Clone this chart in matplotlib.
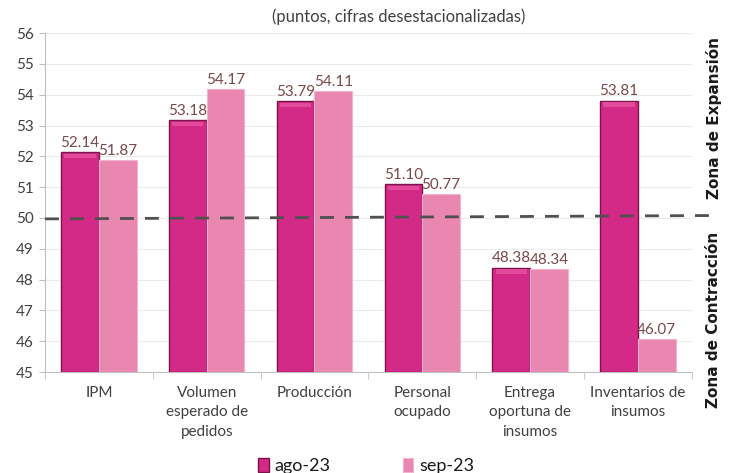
import numpy as np
import matplotlib.pyplot as plt

# datos (puntos, cifras desestacionalizadas)
categorias = ["IPM", "Volumen\nesperado de\npedidos", "Producción",
              "Personal\nocupado", "Entrega\noportuna de\ninsumos",
              "Inventarios de\ninsumos"]
ago_23 = [52.14, 53.18, 53.79, 51.10, 48.38, 53.81]
sep_23 = [51.87, 54.17, 54.11, 50.77, 48.34, 46.07]
series = ["ago-23", "sep-23"]
yticks = list(range(45, 57))

plt.rcParams['font.family'] = ['Lato', 'DejaVu Sans']

c_ago = '#D42A87'
c_sep = '#E987B1'
c_lbl = '#7A4848'
c_txt = '#404040'

fig = plt.figure(figsize=(7.32, 4.73), dpi=100)
ax = fig.add_axes([0.0615, 0.2135, 0.8835, 0.7165])

x = np.arange(len(categorias))
w = 0.35
base = 45
b1 = ax.bar(x - w / 2, np.array(ago_23) - base, w, bottom=base, color=c_ago,
            edgecolor='#7A1448', linewidth=1.0, zorder=3, label=series[0])
b2 = ax.bar(x + w / 2, np.array(sep_23) - base, w, bottom=base, color=c_sep,
            edgecolor='#F3B3CF', linewidth=0.8, zorder=3, label=series[1])

# brillo superior de las barras oscuras (efecto bisel)
for r in b1:
    ax.add_patch(plt.Rectangle((r.get_x() + 0.03, r.get_y() + r.get_height() - 0.2),
                               r.get_width() - 0.06, 0.15, color='#E24A9C',
                               lw=0, zorder=4))

for xi, v in zip(x - w / 2, ago_23):
    ax.text(xi, v + 0.08, f"{v:.2f}", ha='center', va='bottom', fontsize=11,
            color=c_lbl, zorder=5)
for xi, v in zip(x + w / 2, sep_23):
    ax.text(xi, v + 0.08, f"{v:.2f}", ha='center', va='bottom', fontsize=11,
            color=c_lbl, zorder=5)

ax.set_xlim(-0.5, len(categorias) - 0.5)
ax.set_ylim(45, 56)
ax.set_yticks(yticks)
ax.set_yticklabels([str(t) for t in yticks], fontsize=11, color=c_txt)
ax.yaxis.grid(True, color='#EBEBEB', lw=0.8, zorder=0)
ax.tick_params(axis='y', length=4, color='#BFBFBF', pad=4)

ax.set_xticks(x)
ax.set_xticklabels(categorias, fontsize=11, color=c_txt, linespacing=1.5)
ax.tick_params(axis='x', length=0, pad=10)
ax.set_xticks(np.arange(-0.5, len(categorias)), minor=True)
ax.tick_params(axis='x', which='minor', length=5, color='#BFBFBF')

for s in ['top', 'right']:
    ax.spines[s].set_visible(False)
for s in ['left', 'bottom']:
    ax.spines[s].set_color('#BFBFBF')

# umbral de 50 puntos
ax.plot([-0.5, 5.72], [49.97, 50.08], ls=(0, (5, 4)), color='#505050', lw=2,
        zorder=6, clip_on=False)

fig.text(0.545, 0.965, "(puntos, cifras desestacionalizadas)", ha='center',
         va='center', fontsize=12, color=c_txt)
fig.text(0.975, 0.75, "Zona de Expansión", rotation=90, ha='center',
         va='center', fontsize=11, fontweight='bold', color='#1A1A1A',
         family='DejaVu Sans')
fig.text(0.975, 0.323, "Zona de Contracción", rotation=90, ha='center',
         va='center', fontsize=11, fontweight='bold', color='#1A1A1A',
         family='DejaVu Sans')

fig.legend(handles=[b1, b2], labels=series, loc='center', ncol=2,
           bbox_to_anchor=(0.5, 0.015), frameon=False, fontsize=13,
           handlelength=0.6, handleheight=0.8, handletextpad=0.3,
           columnspacing=4, labelcolor='#1A1A1A')

fig.savefig("out.png", dpi=100)
